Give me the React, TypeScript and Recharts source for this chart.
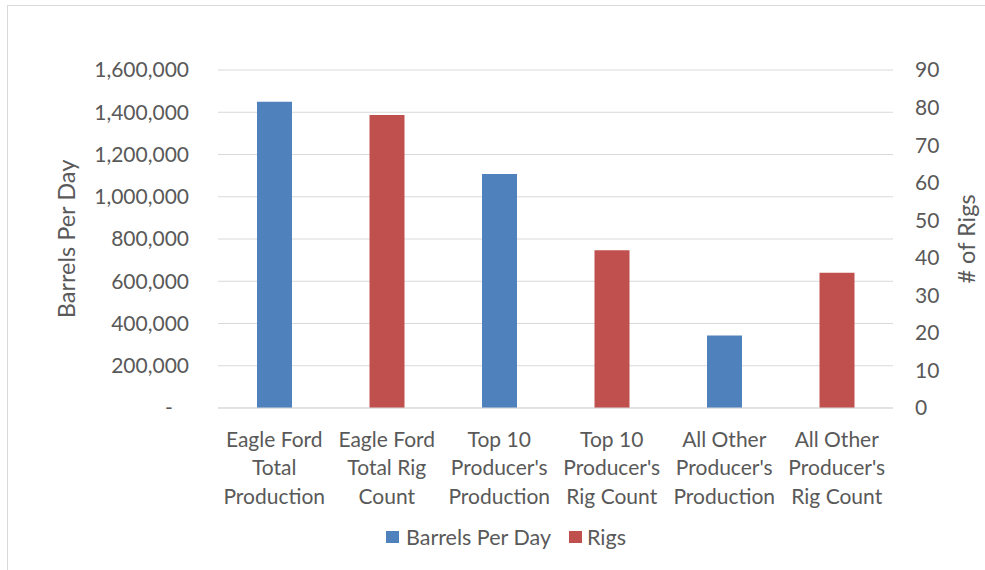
import React from 'react';
import { ComposedChart, Bar, XAxis, YAxis, CartesianGrid, Legend } from 'recharts';

const categories = [
  'Eagle Ford\nTotal\nProduction',
  'Eagle Ford\nTotal Rig\nCount',
  "Top 10\nProducer's\nProduction",
  "Top 10\nProducer's\nRig Count",
  "All Other\nProducer's\nProduction",
  "All Other\nProducer's\nRig Count",
];
const barrelsPerDay = [1450000, null, 1108000, null, 343000, null];
const rigs = [null, 78, null, 42, null, 36];
const leftTicks = [0, 200000, 400000, 600000, 800000, 1000000, 1200000, 1400000, 1600000];
const rightTicks = [0, 10, 20, 30, 40, 50, 60, 70, 80, 90];

const data = categories.map((c, i) => ({ name: c, bpd: barrelsPerDay[i], rigs: rigs[i] }));

const FONT = 'Lato, "Open Sans", sans-serif';
const TEXT = '#595959';
const FS = 21;
const TITLE_FS = 23.5;
const BLUE = '#4f81bd';
const RED = '#c0504d';

const fmtLeft = (v: number) => (v === 0 ? '-\u00A0\u00A0\u00A0' : v.toLocaleString('en-US'));

const CategoryTick = (props: any) => {
  const { x, y, payload } = props;
  const lines = String(payload.value).split('\n');
  return (
    <g>
      {lines.map((l: string, i: number) => (
        <text key={i} x={x} y={y + 38.5 + i * 28.5} textAnchor="middle" fill={TEXT} style={{ fontSize: FS, fontFamily: FONT }}>
          {l}
        </text>
      ))}
    </g>
  );
};

const LegendContent = () => (
  <div style={{ display: 'flex', alignItems: 'center', height: 30, paddingLeft: 386, fontFamily: FONT, fontSize: 21.5, color: TEXT }}>
    <span style={{ display: 'inline-block', width: 13, height: 12, background: BLUE, marginRight: 7 }} />
    <span style={{ marginRight: 18 }}>Barrels Per Day</span>
    <span style={{ display: 'inline-block', width: 13, height: 12, background: RED, marginRight: 5 }} />
    <span>Rigs</span>
  </div>
);

const axisTitle = (text: string, dx: number) => ({ viewBox }: any) => {
  const cx = viewBox.x + dx;
  const cy = viewBox.y + viewBox.height / 2;
  return (
    <text
      x={cx}
      y={cy}
      transform={`rotate(-90, ${cx}, ${cy})`}
      textAnchor="middle"
      dominantBaseline="central"
      fill={TEXT}
      style={{ fontSize: TITLE_FS, fontFamily: FONT }}
    >
      {text}
    </text>
  );
};

export default function App() {
  return (
    <div style={{ position: 'absolute', left: 0, top: 0, width: 985, height: 570, overflow: 'hidden', background: '#fff' }}>
      <div style={{ position: 'absolute', left: 7, top: 5, width: 1010, height: 620, border: '1px solid #d9d9d9', boxSizing: 'border-box' }} />
      <div style={{ position: 'absolute', left: 0, top: 0 }}>
        <ComposedChart
          width={985}
          height={570}
          data={data}
          margin={{ top: 70, right: 12, bottom: 32, left: 20 }}
          barGap={-35}
        >
          <CartesianGrid vertical={false} stroke="#d9d9d9" yAxisId="left" />
          <XAxis
            dataKey="name"
            height={100}
            tickLine={false}
            tickSize={0}
            tickMargin={0}
            axisLine={{ stroke: '#d9d9d9' }}
            tick={<CategoryTick />}
            interval={0}
          />
          <YAxis
            yAxisId="left"
            width={198}
            domain={[0, 1600000]}
            ticks={leftTicks}
            tickFormatter={fmtLeft}
            axisLine={false}
            tickLine={false}
            tickSize={0}
            tickMargin={29}
            tick={{ fill: TEXT, fontSize: FS, fontFamily: FONT }}
            label={axisTitle('Barrels Per Day', 46)}
          />
          <YAxis
            yAxisId="right"
            orientation="right"
            width={80}
            domain={[0, 90]}
            ticks={rightTicks}
            axisLine={false}
            tickLine={false}
            tickSize={0}
            tickMargin={22}
            tick={{ fill: TEXT, fontSize: FS, fontFamily: FONT, textAnchor: 'start' }}
            label={axisTitle('# of Rigs', 73)}
          />
          <Legend verticalAlign="bottom" content={<LegendContent />} wrapperStyle={{ left: 0, top: 522, width: 985 }} />
          <Bar yAxisId="left" dataKey="bpd" name="Barrels Per Day" fill={BLUE} barSize={35} isAnimationActive={false} />
          <Bar yAxisId="right" dataKey="rigs" name="Rigs" fill={RED} barSize={35} isAnimationActive={false} />
        </ComposedChart>
      </div>
    </div>
  );
}
